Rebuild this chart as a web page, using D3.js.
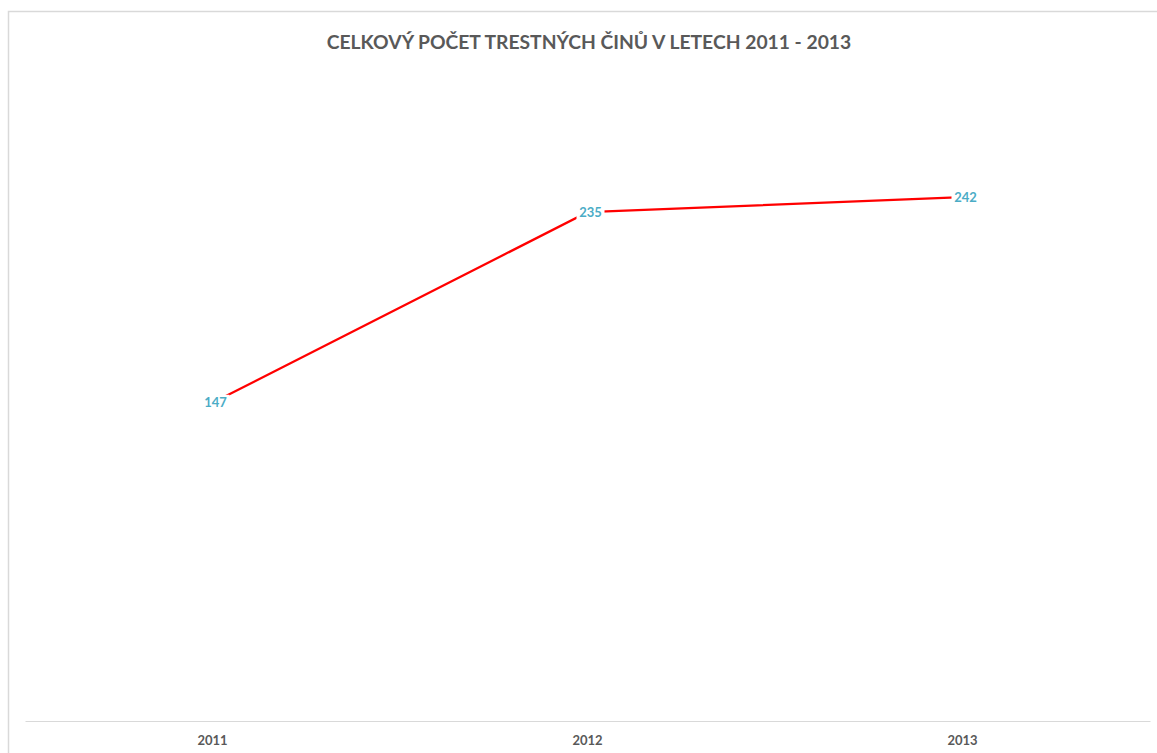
<!DOCTYPE html>
<html>
<head>
<meta charset="utf-8">
<script src="https://cdn.jsdelivr.net/npm/d3@7"></script>
<style>
  body { margin: 0; background: #fff; }
  svg { display: block; }
</style>
</head>
<body>
<svg width="1157" height="753"></svg>
<script>
// data
var years = ["2011", "2012", "2013"];
var crimes = [147, 235, 242];
var titleText = "CELKOVÝ POČET TRESTNÝCH ČINŮ V LETECH 2011 - 2013";

var svg = d3.select("svg");
var width = 1157, height = 753;
var font = "Lato, 'Open Sans', sans-serif";

// chart frame
svg.append("path")
    .attr("d", "M8.5," + (height + 5) + "V11.5H" + (width + 5))
    .attr("fill", "none")
    .attr("stroke", "#d9d9d9")
    .attr("stroke-width", 1.5);

var x = d3.scaleBand().domain(years).range([25, 1150]);
var y = d3.scaleLinear().domain([0, 300]).range([721, 71.5]);

svg.append("text")
    .attr("x", 589)
    .attr("y", 49)
    .attr("text-anchor", "middle")
    .attr("font-family", font)
    .attr("font-weight", "bold")
    .attr("font-size", "19.3px")
    .attr("fill", "#595959")
    .text(titleText);

// x axis
var xAxis = svg.append("g")
    .attr("transform", "translate(0,721)")
    .call(d3.axisBottom(x).tickSize(0).tickPadding(15));
xAxis.select(".domain").attr("stroke", "#d9d9d9").attr("stroke-width", 1);
xAxis.selectAll("text")
    .attr("font-family", font)
    .attr("font-weight", "bold")
    .attr("font-size", "13px")
    .attr("fill", "#595959");

var cx = function(d, i) { return x(years[i]) + x.bandwidth() / 2; };

var line = d3.line()
    .x(function(d, i) { return cx(d, i); })
    .y(function(d) { return y(d); });

svg.append("path")
    .datum(crimes)
    .attr("d", line)
    .attr("fill", "none")
    .attr("stroke", "#ff0000")
    .attr("stroke-width", 2.25);

// data labels
var lab = svg.append("g").selectAll("g")
    .data(crimes)
    .enter().append("g")
    .attr("transform", function(d, i) { return "translate(" + (cx(d, i) + 3) + "," + y(d) + ")"; });

lab.append("rect")
    .attr("x", -14).attr("y", -8)
    .attr("width", 28).attr("height", 16)
    .attr("fill", "#fff");

lab.append("text")
    .attr("text-anchor", "middle")
    .attr("dy", "0.35em")
    .attr("font-family", font)
    .attr("font-weight", "bold")
    .attr("font-size", "13px")
    .attr("fill", "#4bacc6")
    .text(function(d) { return d; });
</script>
</body>
</html>
